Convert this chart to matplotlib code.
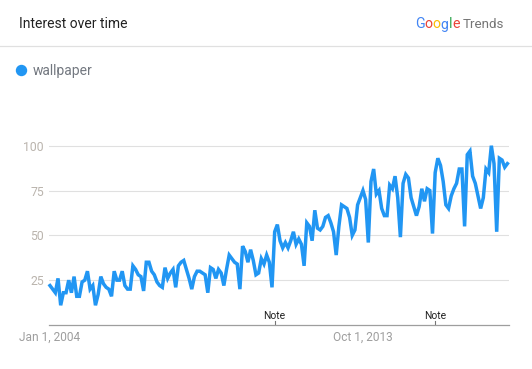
import matplotlib
matplotlib.use("Agg")
import matplotlib.pyplot as plt
from matplotlib.lines import Line2D
import numpy as np

plt.rcParams['font.family'] = ['Roboto', 'DejaVu Sans']

# --- data: monthly interest for "wallpaper", Jan 2004 .. Apr 2018 ---
y2004 = [22, 20, 18, 26, 11, 18, 18, 25, 18, 27, 16, 16]
y2005 = [24, 25, 30, 20, 22, 11, 17, 27, 23, 21, 20, 16]
y2006 = [30, 25, 25, 30, 22, 20, 20, 33, 31, 28, 27, 19]
y2007 = [35, 35, 30, 28, 24, 22, 21, 32, 26, 29, 31, 21]
y2008 = [33, 35, 36, 31, 26, 20, 27, 30, 30, 29, 28, 18]
y2009 = [32, 31, 26, 31, 29, 22, 31, 39, 37, 35, 34, 20]
y2010 = [44, 41, 35, 42, 36, 28, 29, 37, 34, 39, 35, 21]
y2011 = [52, 56, 47, 43, 46, 43, 47, 52, 45, 48, 45, 33]
y2012 = [57, 55, 47, 64, 54, 53, 55, 60, 61, 57, 52, 39]
y2013 = [55, 67, 66, 65, 60, 50, 53, 67, 71, 75, 70, 46]
y2014 = [80, 87, 73, 75, 65, 61, 61, 78, 76, 83, 71, 49]
y2015 = [79, 84, 82, 71, 66, 61, 66, 76, 69, 76, 75, 51]
y2016 = [85, 93, 89, 80, 67, 65, 72, 76, 79, 87, 87, 55]
y2017 = [95, 97, 83, 79, 72, 65, 71, 87, 85, 100, 90, 52]
y2018 = [93, 92, 88, 90]

series_name = "wallpaper"
y_ticks = [25, 50, 75, 100]
x_tick_months = [0, 117]
x_tick_labels = ["Jan 1, 2004", "Oct 1, 2013"]
note_months = [84, 144]

values = (y2004 + y2005 + y2006 + y2007 + y2008 + y2009 + y2010 + y2011
          + y2012 + y2013 + y2014 + y2015 + y2016 + y2017 + y2018)
months = np.arange(len(values))

BLUE = "#2196F3"
W, H = 532, 369

fig = plt.figure(figsize=(W / 100, H / 100), dpi=100)

# header
fig.text(19 / W, 1 - 28 / H, "Interest over time", fontsize=10, color="#212121",
         va="baseline", ha="left")

# Google Trends logo: each letter placed right after the previous one
logo_letters = ["G", "o", "o", "g", "l", "e"]
logo_colors = ["#4285F4", "#EA4335", "#FBBC05", "#4285F4", "#34A853", "#EA4335"]
prev = fig.text(415 / W, 1 - 28.5 / H, logo_letters[0], fontsize=10.2,
                color=logo_colors[0], va="baseline", ha="left")
for ch, col in zip(logo_letters[1:], logo_colors[1:]):
    prev = fig.add_artist(matplotlib.text.Annotation(
        ch, xy=(1, 0), xycoords=prev, va="bottom", ha="left",
        fontsize=10.2, color=col))
fig.text(463 / W, 1 - 28.5 / H, "Trends", fontsize=9.6, color="#757575",
         va="baseline", ha="left")

# separator under header
fig.add_artist(Line2D([0, 1], [1 - 46 / H, 1 - 46 / H], color="#e0e0e0", lw=0.9,
                      transform=fig.transFigure))

# legend
handle = Line2D([], [], marker="o", linestyle="none", color=BLUE, markersize=7.2)
fig.legend([handle], [series_name], loc="center left",
           bbox_to_anchor=(16 / W, 1 - 71 / H), frameon=False, borderpad=0,
           borderaxespad=0, handlelength=0.7, handletextpad=0.5,
           prop={"size": 10}, labelcolor="#737880")

# plot area
px_per_unit = (325 - 145.7) / 100
ax = fig.add_axes([49 / W, (H - 325) / H, 460 / W, 105 * px_per_unit / H])
ax.plot(months, values, color=BLUE, lw=2.5, solid_joinstyle="miter", clip_on=False)
ax.set_xlim(-0.37, 171.6)
ax.set_ylim(0, 105)

ax.set_yticks(y_ticks)
ax.set_xticks(x_tick_months)
ax.set_xticklabels(x_tick_labels)
ax.tick_params(axis="y", length=0, pad=3.6, labelsize=8.8, labelcolor="#bab4ad")
ax.tick_params(axis="x", length=0, pad=4, labelsize=8.6, labelcolor="#9e9e9e")
ax.grid(axis="y", color="#e0e0e0", lw=0.8)
ax.set_axisbelow(True)
for s in ["top", "right", "left"]:
    ax.spines[s].set_visible(False)
ax.spines["bottom"].set_color("#9e9e9e")
ax.spines["bottom"].set_linewidth(0.9)

tick_h = 4.3 / (105 * px_per_unit)
for m in note_months:
    ax.axvline(m, ymin=0, ymax=tick_h, color="#757575", lw=0.8)
    ax.annotate("Note", xy=(m, 0), xycoords=("data", "axes fraction"),
                xytext=(0, 4.2), textcoords="offset points", ha="center",
                va="baseline", fontsize=7.4, color="#212121")

fig.savefig("out.png", dpi=100)
